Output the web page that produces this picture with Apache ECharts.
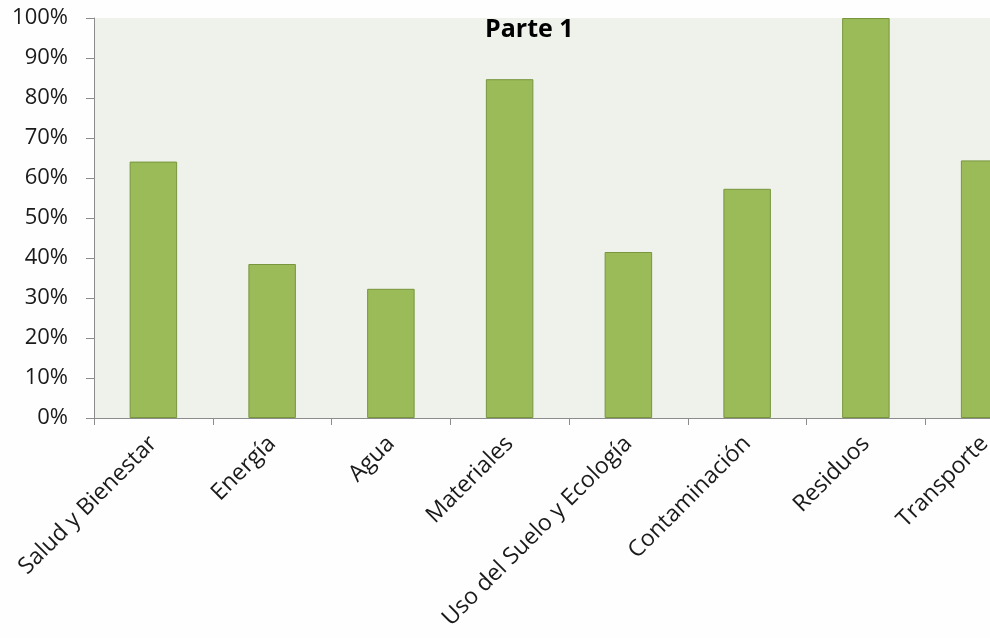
<!DOCTYPE html>
<html>
<head>
<meta charset="utf-8">
<script src="https://cdn.jsdelivr.net/npm/echarts@6/dist/echarts.min.js"></script>
<style>
  html, body { margin: 0; padding: 0; background: #fefefe; overflow: hidden; }
  /* the reference is cropped on the right: the last category runs past the window */
  #chart { width: 1044px; height: 638px; }
</style>
</head>
<body>
<div id="chart"></div>
<script>
// categories and shares
const categories = ['Salud y Bienestar', 'Energía', 'Agua', 'Materiales',
  'Uso del Suelo y Ecología', 'Contaminación', 'Residuos', 'Transporte'];
const values = [0.641, 0.385, 0.323, 0.847, 0.415, 0.573, 1.0, 0.644];
const yTicks = { min: 0, max: 1, step: 0.1 };

const chart = echarts.init(document.getElementById('chart'));
const font = '"Open Sans", "Noto Sans", sans-serif';

chart.setOption({
  animation: false,
  backgroundColor: '#fefefe',
  title: {
    text: 'Parte 1',
    left: 480,
    top: 12,
    textStyle: { fontFamily: font, fontSize: 25, fontWeight: 'bold', color: '#000' }
  },
  grid: {
    left: 94,
    top: 18,
    right: 0,
    height: 400,
    show: true,
    backgroundColor: '#eff2ea',
    borderWidth: 0
  },
  xAxis: {
    type: 'category',
    data: categories,
    axisLine: { lineStyle: { color: '#8c8c8c', width: 1 } },
    axisTick: { show: true, length: 7, lineStyle: { color: '#8c8c8c' } },
    axisLabel: {
      rotate: 45,
      interval: 0,
      margin: 22,
      color: '#1a1a1a',
      fontFamily: font,
      fontSize: 23
    }
  },
  yAxis: {
    type: 'value',
    min: yTicks.min,
    max: yTicks.max,
    interval: yTicks.step,
    splitLine: { show: false },
    axisLine: { show: true, lineStyle: { color: '#8c8c8c', width: 1 } },
    axisTick: { show: true, length: 8, lineStyle: { color: '#8c8c8c' } },
    axisLabel: {
      margin: 26,
      color: '#1a1a1a',
      fontFamily: font,
      fontSize: 22,
      formatter: v => Math.round(v * 100) + '%'
    }
  },
  series: [{
    type: 'bar',
    data: values,
    barWidth: '40%',
    itemStyle: { color: '#9bbb59', borderColor: '#77963d', borderWidth: 1 }
  }]
});
</script>
</body>
</html>
